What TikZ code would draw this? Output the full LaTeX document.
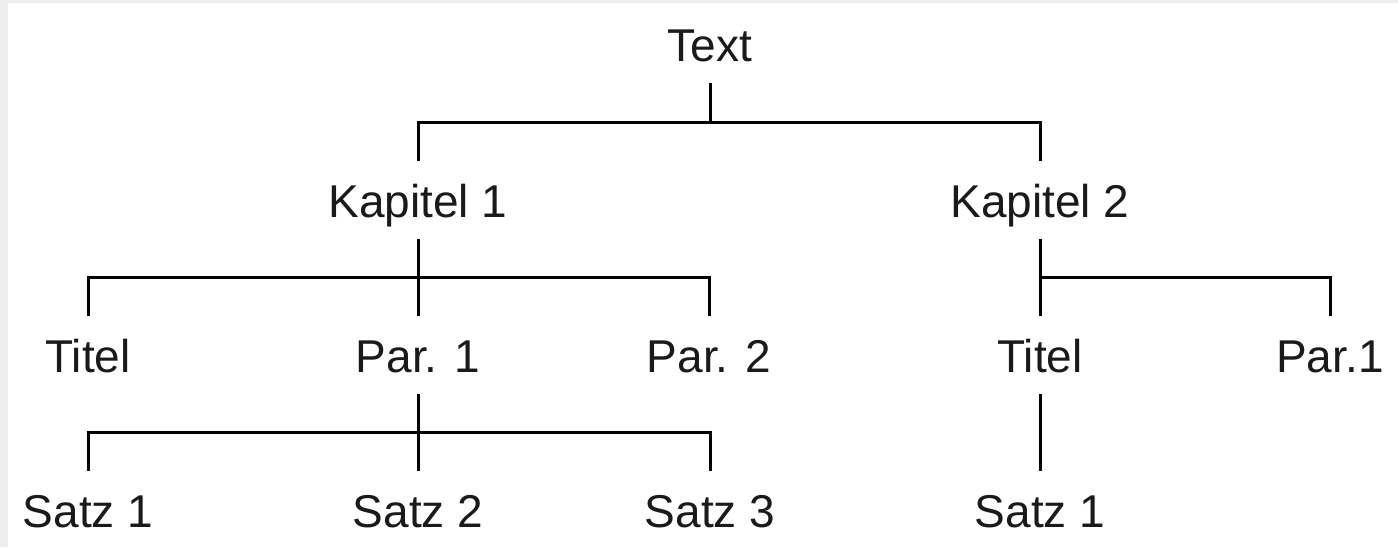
\documentclass[tikz,border=0pt]{standalone}
\usepackage{fontspec}
\setmainfont{Liberation Sans}
\definecolor{framegray}{HTML}{EEEEEE}
\definecolor{inkgray}{HTML}{1A1A1A}
\begin{document}
\begin{tikzpicture}[x=1pt,y=-1pt,
  lbl/.style={anchor=base, inner xsep=0pt, inner ysep=22pt, text height=34pt, text depth=0pt,
    font=\fontsize{46}{50}\selectfont, text=inkgray},
  conn/.style={line width=3pt, black}]
\useasboundingbox (0,0) rectangle (1398,547);
\fill[framegray] (0,0) rectangle (1398,547);
\fill[white] (8,3) rectangle (1398,547);
% nodes
\node[lbl] (t)   at (710,61)  {Text};
\node[lbl] (k1)  at (418,217) {Kapitel 1};
\node[lbl] (k2)  at (1040,217) {Kapitel 2};
\node[lbl] (ti1) at (88,372)  {Titel};
\node[lbl] (p1)  at (418,372) {Par. 1};
\node[lbl] (p2)  at (709,372) {Par. 2};
\node[lbl] (ti2) at (1040,372) {Titel};
\node[lbl] (pr)  at (1330,372) {Par.1};
\node[lbl] (s1)  at (88,527)  {Satz 1};
\node[lbl] (s2)  at (418,527) {Satz 2};
\node[lbl] (s3)  at (710,527) {Satz 3};
\node[lbl] (s4)  at (1040,527) {Satz 1};
% junctions
\coordinate (j1) at (710,122);
\coordinate (j2) at (418,277);
\coordinate (j3) at (1040,277);
\coordinate (j4) at (418,432);
% connectors
\draw[conn] (t.south) -- (j1);
\draw[conn] (k1.north) |- (j1) -| (k2.north);
\draw[conn] (k1.south) -- (p1.north);
\draw[conn] (ti1.north) |- (j2) -| (p2.north);
\draw[conn] (k2.south) -- (ti2.north);
\draw[conn] (j3) -| (pr.north);
\draw[conn] (p1.south) -- (s2.north);
\draw[conn] (s1.north) |- (j4) -| (s3.north);
\draw[conn] (ti2.south) -- (s4.north);
\end{tikzpicture}
\end{document}
